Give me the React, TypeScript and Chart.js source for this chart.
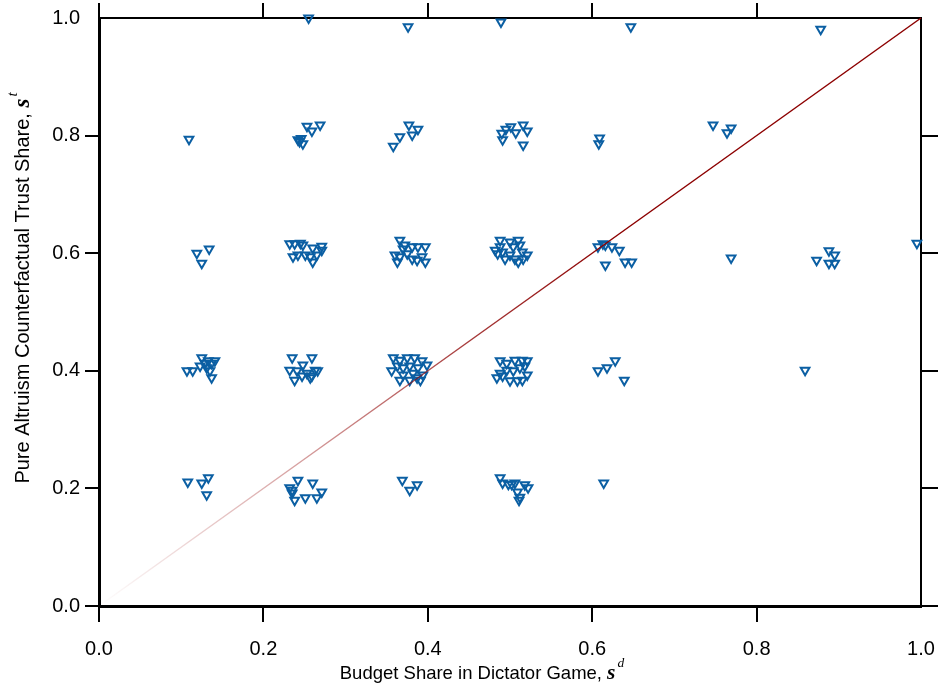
import React, { useEffect, useRef } from "react";
import { Chart, registerables } from "chart.js";

Chart.register(...registerables);

// Tick labels
const tickValues = [0, 0.2, 0.4, 0.6, 0.8, 1.0];

// Row near s^t = 1.0
const row10X = [0.255, 0.376, 0.489, 0.647, 0.878];
const row10Y = [1.0, 0.985, 0.993, 0.985, 0.981];

// Row near s^t = 0.8
const row08X = [0.1095, 0.242, 0.244, 0.246, 0.248, 0.253, 0.259, 0.269, 0.358, 0.366, 0.377, 0.381, 0.388, 0.49, 0.491, 0.495, 0.501, 0.507, 0.516, 0.521, 0.516, 0.609, 0.608, 0.747, 0.764, 0.769];
const row08Y = [0.794, 0.793, 0.79, 0.795, 0.786, 0.816, 0.808, 0.818, 0.782, 0.798, 0.818, 0.801, 0.811, 0.804, 0.793, 0.811, 0.815, 0.805, 0.818, 0.808, 0.784, 0.796, 0.786, 0.818, 0.805, 0.813];

// Row near s^t = 0.6
const row06X = [0.119, 0.125, 0.134, 0.232, 0.238, 0.245, 0.248, 0.26, 0.271, 0.236, 0.242, 0.251, 0.257, 0.26, 0.265, 0.271, 0.366, 0.372, 0.381, 0.388, 0.397, 0.36, 0.366, 0.375, 0.381, 0.387, 0.393, 0.397, 0.363, 0.37, 0.488, 0.482, 0.485, 0.491, 0.5, 0.504, 0.51, 0.512, 0.5, 0.506, 0.51, 0.516, 0.521, 0.494, 0.488, 0.515, 0.607, 0.613, 0.616, 0.624, 0.633, 0.64, 0.648, 0.616, 0.769, 0.873, 0.888, 0.895, 0.888, 0.895, 0.995];
const row06Y = [0.6, 0.583, 0.607, 0.616, 0.616, 0.617, 0.614, 0.609, 0.612, 0.594, 0.597, 0.597, 0.594, 0.585, 0.597, 0.605, 0.622, 0.614, 0.611, 0.611, 0.611, 0.597, 0.594, 0.599, 0.59, 0.588, 0.594, 0.585, 0.585, 0.607, 0.622, 0.605, 0.599, 0.602, 0.619, 0.611, 0.622, 0.614, 0.597, 0.59, 0.585, 0.59, 0.597, 0.59, 0.611, 0.602, 0.611, 0.616, 0.614, 0.611, 0.605, 0.585, 0.585, 0.58, 0.592, 0.588, 0.604, 0.597, 0.583, 0.583, 0.617];

// Row near s^t = 0.4
const row04X = [0.107, 0.114, 0.123, 0.125, 0.129, 0.133, 0.137, 0.141, 0.131, 0.135, 0.137, 0.235, 0.259, 0.232, 0.241, 0.248, 0.253, 0.257, 0.263, 0.266, 0.238, 0.247, 0.259, 0.358, 0.366, 0.375, 0.384, 0.393, 0.363, 0.37, 0.378, 0.388, 0.399, 0.366, 0.378, 0.391, 0.394, 0.37, 0.382, 0.356, 0.387, 0.488, 0.496, 0.506, 0.515, 0.521, 0.484, 0.491, 0.5, 0.509, 0.515, 0.521, 0.496, 0.504, 0.512, 0.488, 0.518, 0.607, 0.618, 0.628, 0.639, 0.859];
const row04Y = [0.4, 0.4, 0.408, 0.422, 0.413, 0.417, 0.413, 0.417, 0.405, 0.4, 0.388, 0.422, 0.422, 0.401, 0.4, 0.41, 0.396, 0.388, 0.401, 0.4, 0.384, 0.391, 0.391, 0.422, 0.418, 0.422, 0.422, 0.417, 0.408, 0.405, 0.408, 0.405, 0.41, 0.384, 0.384, 0.384, 0.393, 0.393, 0.396, 0.4, 0.388, 0.417, 0.413, 0.418, 0.418, 0.417, 0.388, 0.391, 0.383, 0.383, 0.384, 0.393, 0.401, 0.4, 0.405, 0.396, 0.408, 0.4, 0.405, 0.417, 0.384, 0.401];

// Row near s^t = 0.2
const row02X = [0.108, 0.125, 0.133, 0.131, 0.232, 0.235, 0.238, 0.242, 0.251, 0.26, 0.265, 0.271, 0.235, 0.369, 0.378, 0.387, 0.488, 0.491, 0.498, 0.506, 0.509, 0.512, 0.518, 0.522, 0.511, 0.502, 0.614];
const row02Y = [0.211, 0.209, 0.218, 0.189, 0.201, 0.192, 0.18, 0.214, 0.184, 0.209, 0.184, 0.194, 0.197, 0.214, 0.197, 0.206, 0.218, 0.209, 0.207, 0.209, 0.194, 0.185, 0.206, 0.201, 0.18, 0.207, 0.209];

// 45-degree reference line
const lineX = [0, 1];
const lineY = [0, 1];

const BLUE = "#0b5fa3";
const SANS = '"Liberation Sans", Arial, Helvetica, sans-serif';
const SERIF = '"Liberation Serif", "DejaVu Serif", "Times New Roman", serif';

function zip(xs: number[], ys: number[]) {
  return xs.map((x, i) => ({ x, y: ys[i] }));
}

const titlePlugin = {
  id: "axisTitles",
  afterDraw(chart: any) {
    const { ctx, chartArea: a } = chart;
    ctx.save();
    ctx.fillStyle = "#000";
    ctx.textBaseline = "alphabetic";
    ctx.textAlign = "left";

    const drawTitle = (main: string, sup: string, size: number) => {
      const f1 = `${size}px ${SANS}`;
      const f2 = `italic bold ${size + 3}px ${SERIF}`;
      const f3 = `italic ${size - 5}px ${SERIF}`;
      ctx.font = f1;
      const w1 = ctx.measureText(main).width;
      ctx.font = f2;
      const w2 = ctx.measureText("s").width;
      ctx.font = f3;
      const w3 = ctx.measureText(sup).width;
      const total = w1 + w2 + 2 + w3;
      let x = -total / 2;
      ctx.font = f1;
      ctx.fillText(main, x, 0);
      x += w1;
      ctx.font = f2;
      ctx.fillText("s", x, 0);
      x += w2 + 2;
      ctx.font = f3;
      ctx.fillText(sup, x, -12);
    };

    // x title
    ctx.save();
    ctx.translate(a.left + (482 - 99), 679);
    drawTitle("Budget Share in Dictator Game, ", "d", 18.5);
    ctx.restore();

    // y title
    ctx.save();
    ctx.translate(29, a.top + (288 - 18));
    ctx.rotate(-Math.PI / 2);
    drawTitle("Pure Altruism Counterfactual Trust Share, ", "t", 20);
    ctx.restore();

    ctx.restore();
  },
};

const skipOne = (w: number) => (c: any) => (c.tick && c.tick.value === 1 ? 0 : w);
const noPad = (s: any) => {
  s.paddingLeft = 0;
  s.paddingRight = 0;
  s.paddingTop = 0;
  s.paddingBottom = 0;
};
const fixedTicks = (s: any) => {
  s.ticks = tickValues.map((v) => ({ value: v }));
};

export default function App() {
  const ref = useRef<HTMLCanvasElement | null>(null);

  useEffect(() => {
    if (!ref.current) return;
    const points = [
      ...zip(row10X, row10Y),
      ...zip(row08X, row08Y),
      ...zip(row06X, row06Y),
      ...zip(row04X, row04Y),
      ...zip(row02X, row02Y),
    ];
    const tickFont = { family: SANS, size: 20 };
    const chart = new Chart(ref.current, {
      type: "scatter",
      data: {
        datasets: [
          {
            type: "line",
            data: zip(lineX, lineY),
            order: 0,
            showLine: true,
            pointRadius: 0,
            borderWidth: 1.5,
            fill: false,
            borderColor: (c: any) => {
              const ch = c.chart;
              const area = ch.chartArea;
              if (!area) return "#8b0000";
              const g = ch.ctx.createLinearGradient(area.left, area.bottom, area.right, area.top);
              g.addColorStop(0, "rgba(150,10,10,0)");
              g.addColorStop(0.25, "rgba(150,10,10,0.4)");
              g.addColorStop(0.45, "rgba(145,10,10,0.8)");
              g.addColorStop(0.62, "rgba(140,0,0,1)");
              g.addColorStop(1, "rgba(140,0,0,1)");
              return g;
            },
            clip: false,
          } as any,
          {
            type: "scatter",
            data: points,
            order: 1,
            pointStyle: "triangle",
            rotation: 180,
            pointRadius: 5,
            pointBorderWidth: 2,
            pointBackgroundColor: "rgba(255,255,255,0)",
            pointBorderColor: BLUE,
            clip: false,
          } as any,
        ],
      },
      options: {
        responsive: false,
        animation: false,
        devicePixelRatio: 1,
        layout: { padding: 0 },
        plugins: { legend: { display: false }, tooltip: { enabled: false } },
        scales: {
          x: {
            type: "linear",
            position: "bottom",
            min: 0,
            max: 1,
            afterBuildTicks: fixedTicks,
            afterFit: (s: any) => {
              s.height = 82;
              noPad(s);
            },
            ticks: {
              color: "#000",
              font: tickFont,
              padding: 15,
              maxRotation: 0,
              callback: (v: any) => Number(v).toFixed(1),
            },
            grid: {
              drawOnChartArea: false,
              drawTicks: true,
              tickLength: 16,
              color: "#000",
              lineWidth: skipOne(2),
            },
            border: { display: true, color: "#000", width: 3 },
          },
          x2: {
            type: "linear",
            position: "top",
            min: 0,
            max: 1,
            afterBuildTicks: fixedTicks,
            afterFit: (s: any) => {
              s.height = 18;
              noPad(s);
            },
            ticks: { display: false },
            grid: {
              drawOnChartArea: false,
              drawTicks: true,
              tickLength: 15,
              color: "#000",
              lineWidth: skipOne(2),
            },
            border: { display: true, color: "#000", width: 2 },
          },
          y: {
            type: "linear",
            position: "left",
            min: 0,
            max: 1,
            afterBuildTicks: fixedTicks,
            afterFit: (s: any) => {
              s.width = 99;
              noPad(s);
            },
            ticks: {
              color: "#000",
              font: tickFont,
              padding: 5,
              callback: (v: any) => Number(v).toFixed(1),
            },
            grid: {
              drawOnChartArea: false,
              drawTicks: true,
              tickLength: 14,
              color: "#000",
              lineWidth: skipOne(2),
            },
            border: { display: true, color: "#000", width: 3 },
          },
          y2: {
            type: "linear",
            position: "right",
            min: 0,
            max: 1,
            afterBuildTicks: fixedTicks,
            afterFit: (s: any) => {
              s.width = 22;
              noPad(s);
            },
            ticks: { display: false },
            grid: {
              drawOnChartArea: false,
              drawTicks: true,
              tickLength: 17,
              color: "#000",
              lineWidth: skipOne(2),
            },
            border: { display: true, color: "#000", width: 2 },
          },
        },
      } as any,
      plugins: [titlePlugin],
    });
    return () => chart.destroy();
  }, []);

  return (
    <div style={{ position: "absolute", left: 0, top: 0, width: 943, height: 688, background: "#fff" }}>
      <canvas ref={ref} width={943} height={688} style={{ width: 943, height: 688, display: "block" }} />
    </div>
  );
}
